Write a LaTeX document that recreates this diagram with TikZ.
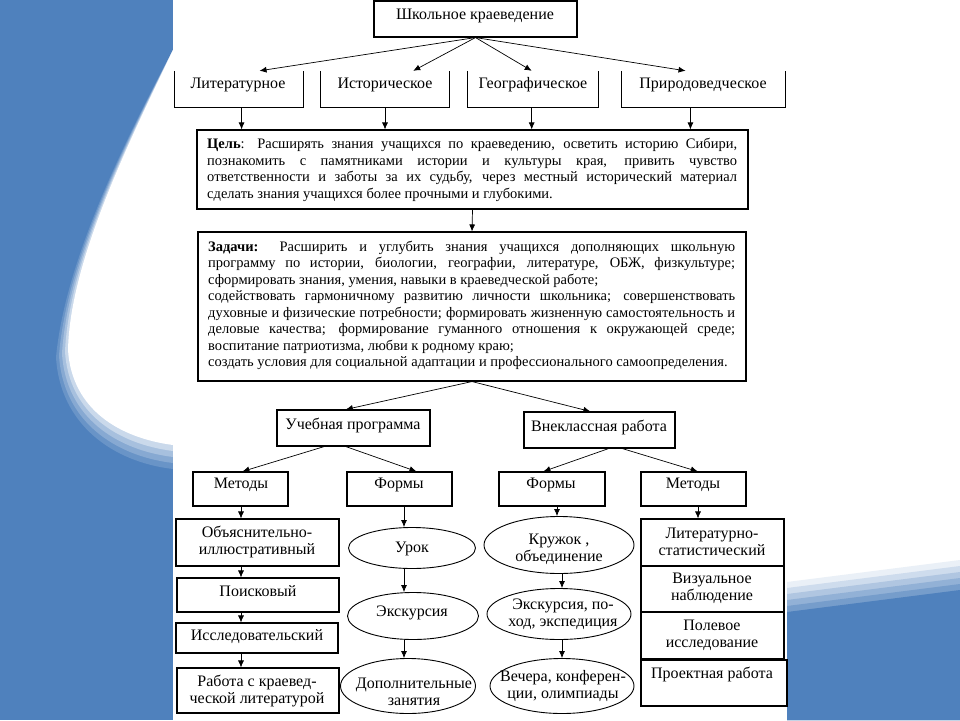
\documentclass[tikz,border=0pt]{standalone}
\usepackage{fontspec}
\setmainfont{Liberation Serif}
\usetikzlibrary{arrows.meta,shapes.geometric,calc,fit}
\definecolor{slideblue}{RGB}{79,129,189}
\begin{document}
\begin{tikzpicture}[x=1pt,y=-1pt,
  bx/.style={draw, line width=1.1pt, inner sep=0pt},
  frame/.style={inner sep=0pt},
  el/.style={draw, ellipse, line width=0.9pt, inner sep=0pt},
  lbl/.style={font=\fontsize{16}{17}\selectfont, align=center, inner sep=0pt},
  para/.style={font=\fontsize{14.5}{16.5}\selectfont, inner sep=0pt, anchor=base west},
  arr/.style={-{Latex[length=7pt,width=6pt]}, line width=0.7pt},
  side/.style={line width=1.1pt},
]
\useasboundingbox (0,0) rectangle (960,720);
% ---------- background ----------
\fill[white] (0,0) rectangle (960,720);
\foreach \k/\p in {0/12,1/28,2/45,3/62,4/78,5/100} {
  \fill[slideblue!\p!white] (787,{582+6*\k}) -- (960,{560+6*\k}) -- (960,720) -- (787,720) -- cycle;
}
\fill[slideblue] (0,0) rectangle (173,720);
\foreach \d/\p in {24/85,18/68,12/50,6/30,0/0} {
  \fill[slideblue!\p!white] (173,50) .. controls ({130-0.2*\d},140) and ({70-0.2*\d},260) .. ({68-0.5*\d},{350+0.3*\d})
     .. controls ({72-0.5*\d},{410+0.6*\d}) and ({120-0.3*\d},{438+\d}) .. (173,{445+\d}) -- cycle;
}
\fill[white] (173,0) rectangle (787,720);

% ---------- level 1 ----------
\node[bx, fit={(374,1) (577,37)}] (top) {};
\node[lbl] (topt) at (475,16) {Школьное краеведение};

% ---------- level 2 (open-top boxes) ----------
\node[frame, fit={(175,71) (303,107)}] (lit) {};
\node[frame, fit={(321,71) (449,107)}] (ist) {};
\node[frame, fit={(468,71) (598,107)}] (geo) {};
\node[frame, fit={(622,71) (785,107)}] (pri) {};
\foreach \b in {lit,ist,geo,pri} {
  \draw[side] (\b.north west) -- (\b.south west) -- (\b.south east) -- (\b.north east);
}
\node[lbl] (litt) at (238,85) {Литературное};
\node[lbl] (istt) at (385,85) {Историческое};
\node[lbl] (geot) at (533,85) {Географическое};
\node[lbl] (prit) at (703,85) {Природоведческое};

\draw[arr] (top.south) -- ($(lit.north west)!0.66!(lit.north east)$);
\draw[arr] (top.south) -- ($(ist.north west)!0.72!(ist.north east)$);
\draw[arr] (top.south) -- ($(geo.north west)!0.49!(geo.north east)$);
\draw[arr] (top.south) -- ($(pri.north west)!0.39!(pri.north east)$);

% ---------- goal ----------
\node[bx, fit={(197,130) (748,209)}] (cel) {};
\draw[arr] ($(lit.south west)!0.52!(lit.south east)$) coordinate (a1) -- (a1 |- cel.north);
\draw[arr] ($(ist.south west)!0.50!(ist.south east)$) coordinate (a2) -- (a2 |- cel.north);
\draw[arr] ($(geo.south west)!0.49!(geo.south east)$) coordinate (a3) -- (a3 |- cel.north);
\draw[arr] ($(pri.south west)!0.42!(pri.south east)$) coordinate (a4) -- (a4 |- cel.north);

\node[para] (c1) at (207,148) {\makebox[530pt][s]{\textbf{Цель}: Расширять знания учащихся по краеведению, осветить историю Сибири,}};
\node[para] (c2) at (207,165) {\makebox[530pt][s]{познакомить с памятниками истории и культуры края, привить чувство}};
\node[para] (c3) at (207,181) {\makebox[530pt][s]{ответственности и заботы за их судьбу, через местный исторический материал}};
\node[para] (c4) at (207,198) {сделать знания учащихся более прочными и глубокими.};

% ---------- tasks ----------
\node[bx, fit={(198,232) (746,381)}] (zad) {};
\draw[arr] (cel.south) -- (zad.north);
\node[para] (z1) at (208,251) {\makebox[527pt][s]{\textbf{Задачи:} Расширить и углубить знания учащихся дополняющих школьную}};
\node[para] (z2) at (208,267.5) {\makebox[527pt][s]{программу по истории, биологии, географии, литературе, ОБЖ, физкультуре;}};
\node[para] (z3) at (208,284) {сформировать знания, умения, навыки в краеведческой работе;};
\node[para] (z4) at (208,300.5) {\makebox[527pt][s]{содействовать гармоничному развитию личности школьника; совершенствовать}};
\node[para] (z5) at (208,317) {\makebox[527pt][s]{духовные и физические потребности; формировать жизненную самостоятельность и}};
\node[para] (z6) at (208,333.5) {\makebox[527pt][s]{деловые качества; формирование гуманного отношения к окружающей среде;}};
\node[para] (z7) at (208,350) {воспитание патриотизма, любви к родному краю;};
\node[para] (z8) at (208,366.5) {создать условия для социальной адаптации и профессионального самоопределения.};

% ---------- level 4 ----------
\node[bx, fit={(277,410) (430,446)}] (ucheb) {};
\node[bx, fit={(524,412) (675,448)}] (vnek) {};
\node[lbl] (uchebt) at (353,425) {Учебная программа};
\node[lbl] (vnekt) at (599,427) {Внеклассная работа};
\draw[arr] (zad.south) -- ($(ucheb.north west)!0.45!(ucheb.north east)$);
\draw[arr] (zad.south) -- ($(vnek.north west)!0.44!(vnek.north east)$);

% ---------- level 5 ----------
\node[bx, fit={(193,472) (288,506)}] (met1) {};
\node[bx, fit={(347,472) (452,506)}] (form1) {};
\node[bx, fit={(499,472) (605,506)}] (form2) {};
\node[bx, fit={(641,472) (746,506)}] (met2) {};
\node[lbl] (met1t) at (241,485) {Методы};
\node[lbl] (form1t) at (399,485) {Формы};
\node[lbl] (form2t) at (551,485) {Формы};
\node[lbl] (met2t) at (693,485) {Методы};
\draw[arr] ($(ucheb.south west)!0.31!(ucheb.south east)$) -- ($(met1.north west)!0.52!(met1.north east)$);
\draw[arr] ($(ucheb.south west)!0.45!(ucheb.south east)$) -- ($(form1.north west)!0.66!(form1.north east)$);
\draw[arr] ($(vnek.south west)!0.56!(vnek.south east)$) -- ($(form2.north west)!0.42!(form2.north east)$);
\draw[arr] ($(vnek.south west)!0.65!(vnek.south east)$) -- ($(met2.north west)!0.54!(met2.north east)$);

% ---------- column A: methods ----------
\coordinate (colA) at (241,0);
\node[bx, fit={(176,519) (339,566)}] (ob) {};
\node[bx, fit={(177,578) (339,612)}] (poi) {};
\node[bx, fit={(176,623) (338,653)}] (iss) {};
\node[bx, fit={(177,668) (339,713)}] (rab) {};
\node[lbl] (obt) at (257,541.5) {Объяснительно-\\иллюстративный};
\node[lbl] (poit) at (258,591) {Поисковый};
\node[lbl] (isst) at (257,637) {Исследовательский};
\node[lbl] (rabt) at (257,691) {Работа с краевед-\\ческой литературой};
\draw[arr] (met1.south -| colA) -- (ob.north -| colA);
\draw[arr] (ob.south -| colA) -- (poi.north -| colA);
\draw[arr] (poi.south -| colA) -- (iss.north -| colA);
\draw[arr] (iss.south -| colA) -- (rab.north -| colA);

% ---------- column B: forms ----------
\coordinate (colB) at (404,0);
\node[el, minimum width=127pt, minimum height=41pt] (urok) at (412,548) {};
\node[el, minimum width=131pt, minimum height=47pt] (exc) at (413,616) {};
\node[el, minimum width=135pt, minimum height=55pt] (dop) at (408,686) {};
\node[lbl] (urokt) at (412,549) {Урок};
\node[lbl] (exct) at (412,613) {Экскурсия};
\node[lbl] (dopt) at (414,692) {Дополнительные\\занятия};
\draw[arr] (form1.south -| colB) -- (urok.north -| colB);
\draw[arr] (urok.south -| colB) -- (exc.north -| colB);
\draw[arr] (exc.south -| colB) -- (dop.north -| colB);

% ---------- column C: extracurricular forms ----------
\coordinate (colC) at (557,0);
\coordinate (colCC) at (562,0);
\node[el, minimum width=150pt, minimum height=57pt] (kru) at (559,545) {};
\node[el, minimum width=144pt, minimum height=51pt] (exc2) at (559,614) {};
\node[el, minimum width=144pt, minimum height=55pt] (vec) at (562,686) {};
\node[lbl] (krut) at (559,549) {Кружок ,\\объединение};
\node[lbl] (exc2t) at (563,614.5) {Экскурсия, по-\\ход, экспедиция};
\node[lbl] (vect) at (563,686) {Вечера, конферен-\\ции, олимпиады};
\draw[arr] (form2.south -| colC) -- (kru.north -| colC);
\draw[arr] (kru.south -| colCC) -- (exc2.north -| colCC);
\draw[arr] (exc2.south -| colCC) -- (vec.north -| colCC);

% ---------- column D: extracurricular methods ----------
\coordinate (colD) at (698,0);
\node[bx, fit={(641,519) (784,566)}] (lst) {};
\node[bx, fit={(641,566) (784,612)}] (viz) {};
\node[bx, fit={(641,612) (784,659)}] (pol) {};
\node[bx, fit={(641,660) (787,706)}] (pro) {};
\node[lbl] (lstt) at (712,541.5) {Литературно-\\статистический};
\node[lbl] (vizt) at (712,588.5) {Визуальное\\наблюдение};
\node[lbl] (polt) at (712,635) {Полевое\\исследование};
\node[lbl] (prot) at (712,674) {Проектная работа};
\draw[arr] (met2.south -| colD) -- (lst.north -| colD);
\end{tikzpicture}
\end{document}
